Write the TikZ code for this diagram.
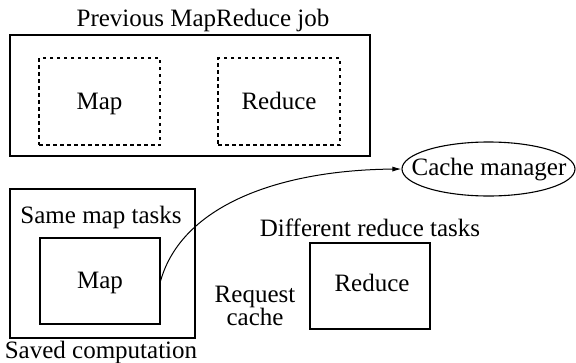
\documentclass[tikz,border=0pt]{standalone}
\usepackage{fontspec}
\setmainfont{Liberation Serif}
\newfontfamily\tmsfont{Liberation Serif}
\usetikzlibrary{shapes.geometric,arrows.meta}
\begin{document}
\begin{tikzpicture}[x=1pt,y=-1pt,
  every node/.style={font=\tmsfont\fontsize{25}{27}\selectfont, inner sep=0pt},
  box/.style={draw, line width=1.1pt, rectangle},
  dbox/.style={draw, line width=1.1pt, rectangle, dash pattern=on 3.5pt off 3.5pt},
  lbl/.style={align=center, anchor=base}]
\useasboundingbox (0,0) rectangle (576,362);
\node[lbl] (title) at (203,26) {Previous MapReduce job};
\node[box, minimum width=360pt, minimum height=121pt] (prev) at (190,95.5) {};
\node[dbox, minimum width=121pt, minimum height=87pt] (map1) at (99.5,101.5) {};
\node[lbl] (map1t) at (99.5,109) {Map};
\node[dbox, minimum width=122pt, minimum height=87pt] (red1) at (279,101.5) {};
\node[lbl] (red1t) at (279,109) {Reduce};
\node[draw, ellipse, line width=1.1pt, minimum width=173pt, minimum height=54pt] (cache) at (488.5,169) {};
\node[lbl] (cachet) at (489,175) {Cache manager};
\node[box, minimum width=185pt, minimum height=149pt] (saved) at (102.5,263.5) {};
\node[lbl] (same) at (101,223) {Same map tasks};
\node[box, minimum width=120pt, minimum height=86pt] (map2) at (100,281) {};
\node[lbl] (map2t) at (100,288) {Map};
\node[lbl] (savedlbl) at (101,358) {Saved computation};
\node[lbl] (diff) at (370,236) {Different reduce tasks};
\node[box, minimum width=120pt, minimum height=86pt] (red2) at (370,286) {};
\node[lbl] (redtxt) at (372,291) {Reduce};
\node[lbl] (req) at (255,302) {Request};
\node[lbl] (req2) at (255,325) {cache};
\draw[line width=1pt, -{Latex[length=9pt,width=5pt]}] (map2.east) .. controls (182,205) and (280,170) .. (cache.west);
\end{tikzpicture}
\end{document}
